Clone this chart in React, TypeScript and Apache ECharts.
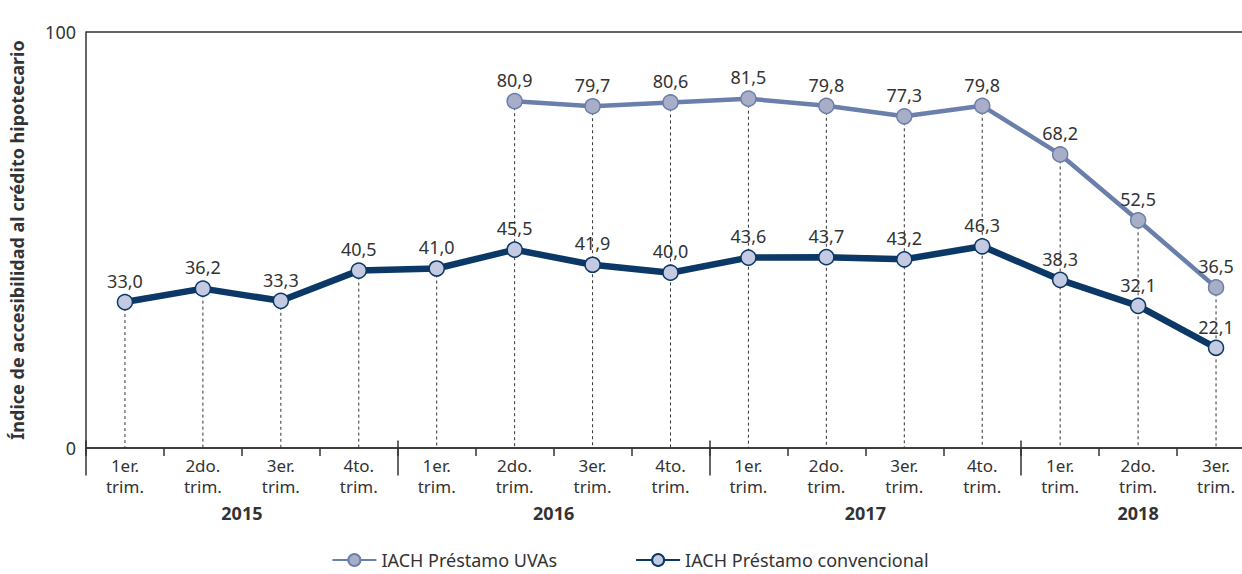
import React, { useEffect, useRef } from "react";
import * as echarts from "echarts";

const categories = [
  "1er.\ntrim.", "2do.\ntrim.", "3er.\ntrim.", "4to.\ntrim.",
  "1er.\ntrim.", "2do.\ntrim.", "3er.\ntrim.", "4to.\ntrim.",
  "1er.\ntrim.", "2do.\ntrim.", "3er.\ntrim.", "4to.\ntrim.",
  "1er.\ntrim.", "2do.\ntrim.", "3er.\ntrim.",
];
const years = ["2015", "2016", "2017", "2018"];
const yearStart = [0, 4, 8, 12];
const yearSize = [4, 4, 4, 3];

const uvaValues: (number | null)[] = [
  null, null, null, null, null,
  80.9, 79.7, 80.6, 81.5, 79.8, 77.3, 79.8, 68.2, 52.5, 36.5,
];
const convValues: number[] = [
  33.0, 36.2, 33.3, 40.5, 41.0, 45.5, 41.9, 40.0, 43.6, 43.7, 43.2, 46.3, 38.3, 32.1, 22.1,
];
const yTicks = [0, 100];

const FONT = "Noto Sans";
const TXT = "#333333";
const UVA_LINE = "#6a7fab";
const UVA_FILL = "#a9aec8";
const CONV_LINE = "#0b3866";
const CONV_FILL = "#c4cae1";

const fmt = (v: number) => v.toFixed(1).replace(".", ",");

export default function App() {
  const ref = useRef<HTMLDivElement>(null);
  useEffect(() => {
    if (!ref.current) return;
    const chart = echarts.init(ref.current, undefined, { renderer: "svg" });
    const dashData = categories.map((_, i) => {
      const a = uvaValues[i];
      const b = convValues[i];
      return [i, a == null ? b : Math.max(a, b)];
    });
    const yearLabelAt: Record<number, { year: string; shift: boolean }> = {};
    years.forEach((y, k) => {
      const n = yearSize[k];
      const idx = yearStart[k] + Math.floor((n - 1) / 2);
      yearLabelAt[idx] = { year: y, shift: n % 2 === 0 };
    });
    chart.setOption({
      animation: false,
      textStyle: { fontFamily: FONT },
      grid: { left: 78, top: 32, width: 1177, height: 416, containLabel: false },
      xAxis: [
        {
          type: "category",
          data: categories,
          boundaryGap: true,
          axisLine: { lineStyle: { color: TXT, width: 1.5 } },
          axisTick: { show: true, length: 8, interval: 0, lineStyle: { color: TXT, width: 1.5 } },
          axisLabel: {
            interval: 0,
            color: TXT,
            fontSize: 17,
            lineHeight: 21,
            margin: 7,
            fontFamily: FONT,
          },
          splitLine: { show: false },
        },
        {
          type: "category",
          data: categories,
          position: "bottom",
          boundaryGap: true,
          axisLine: { show: false },
          axisTick: {
            show: true,
            length: 35,
            interval: (i: number) => yearStart.includes(i),
            lineStyle: { color: TXT, width: 1.5 },
          },
          axisLabel: {
            interval: 0,
            margin: 56,
            formatter: (_: string, i: number) => {
              const e = yearLabelAt[i];
              if (!e) return "";
              return e.shift ? `{s|${e.year}}` : `{c|${e.year}}`;
            },
            rich: {
              s: { fontSize: 18, fontWeight: "bold", color: TXT, fontFamily: FONT, padding: [0, 0, 0, 78] },
              c: { fontSize: 18, fontWeight: "bold", color: TXT, fontFamily: FONT },
            },
          },
        },
      ],
      yAxis: [
        {
          type: "value",
          min: 0,
          max: 100,
          interval: 100,
          name: "Índice de accesibilidad al crédito hipotecario",
          nameLocation: "middle",
          nameGap: 60,
          nameRotate: 90,
          nameTextStyle: { fontSize: 18, fontWeight: "bold", color: TXT, fontFamily: FONT },
          axisLine: { show: true, lineStyle: { color: TXT, width: 1.5 } },
          axisTick: { show: false },
          axisLabel: {
            color: TXT,
            fontSize: 18,
            margin: 10,
            padding: [0, 0, 8, 0],
            fontFamily: FONT,
            formatter: (v: number) => (yTicks.includes(v) ? String(v) : ""),
          },
          splitLine: { show: true, lineStyle: { color: TXT, width: 1.5 } },
        },
        {
          type: "value",
          min: -1.8,
          max: 97.4,
          show: false,
          splitLine: { show: false },
        },
      ],
      legend: {
        bottom: 0,
        left: "center",
        itemWidth: 44,
        itemHeight: 15,
        itemGap: 78,
        textStyle: { fontSize: 18, color: TXT, fontFamily: FONT },
        data: ["IACH Préstamo UVAs", "IACH Préstamo convencional"],
      },
      series: [
        {
          type: "custom",
          xAxisIndex: 0,
          yAxisIndex: 1,
          z: 1,
          silent: true,
          data: dashData,
          renderItem: (params: any, api: any) => {
            const p = api.coord([api.value(0), api.value(1)]);
            const bottom = params.coordSys.y + params.coordSys.height;
            return {
              type: "line",
              shape: { x1: p[0], y1: p[1], x2: p[0], y2: bottom },
              style: { stroke: "#333", lineWidth: 1, lineDash: [3, 3] },
            };
          },
        },
        {
          name: "IACH Préstamo UVAs",
          type: "line",
          xAxisIndex: 0,
          yAxisIndex: 1,
          z: 3,
          data: uvaValues,
          symbol: "circle",
          symbolSize: 15,
          showAllSymbol: true,
          lineStyle: { color: UVA_LINE, width: 4.5 },
          itemStyle: { color: UVA_FILL, borderColor: UVA_LINE, borderWidth: 1.5 },
          label: {
            show: true,
            position: "top",
            distance: 4,
            color: TXT,
            fontSize: 18,
            fontFamily: FONT,
            formatter: (p: any) => fmt(p.value),
          },
        },
        {
          name: "IACH Préstamo convencional",
          type: "line",
          xAxisIndex: 0,
          yAxisIndex: 1,
          z: 4,
          data: convValues,
          symbol: "circle",
          symbolSize: 15,
          showAllSymbol: true,
          lineStyle: { color: CONV_LINE, width: 6.5 },
          itemStyle: { color: CONV_FILL, borderColor: CONV_LINE, borderWidth: 1.5 },
          label: {
            show: true,
            position: "top",
            distance: 4,
            color: TXT,
            fontSize: 18,
            fontFamily: FONT,
            formatter: (p: any) => fmt(p.value),
          },
        },
      ],
    });
    return () => chart.dispose();
  }, []);
  return (
    <div style={{ position: "fixed", left: 0, top: 0, width: 1242, height: 574, overflow: "hidden", background: "#fff" }}>
      <div ref={ref} style={{ width: 1260, height: 574 }} />
    </div>
  );
}
